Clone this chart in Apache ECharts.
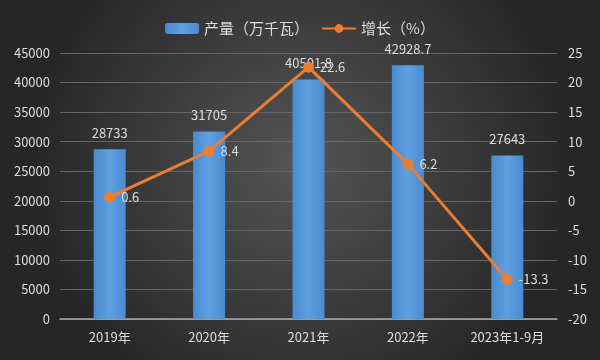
<!DOCTYPE html>
<html><head><meta charset="utf-8">
<script src="https://cdn.jsdelivr.net/npm/echarts@6/dist/echarts.min.js"></script>
<style>html,body{margin:0;padding:0;}#c{width:600px;height:360px;}</style>
</head><body><div id="c"></div>
<script>
const categories = ['2019年','2020年','2021年','2022年','2023年1-9月'];
const output = [28733, 31705, 40501.8, 42928.7, 27643];
const growth = [0.6, 8.4, 22.6, 6.2, -13.3];
const leftTicks = [0, 45000, 5000];
const rightTicks = [-20, 25, 5];

const font = '"Noto Sans CJK SC", "Noto Sans", sans-serif';
const chart = echarts.init(document.getElementById('c'));
chart.setOption({
  backgroundColor: {
    type: 'radial', x: 0.5, y: 0.45, r: 0.75,
    colorStops: [{offset: 0, color: '#555555'}, {offset: 1, color: '#262626'}]
  },
  textStyle: {fontFamily: font},
  legend: {
    top: 16, left: 'center', itemWidth: 34, itemHeight: 11, itemGap: 12,
    textStyle: {color: '#dddddd', fontSize: 15, fontFamily: font},
    data: ['产量（万千瓦）', '增长（%）']
  },
  grid: {left: 60, right: 43, top: 53, bottom: 41},
  xAxis: {
    type: 'category', data: categories,
    axisLine: {lineStyle: {color: '#aaaaaa', width: 1.5}},
    axisTick: {show: false},
    axisLabel: {color: '#dddddd', fontSize: 13, margin: 12, interval: 0, fontFamily: font}
  },
  yAxis: [{
    type: 'value', min: leftTicks[0], max: leftTicks[1], interval: leftTicks[2],
    axisLine: {show: false}, axisTick: {show: false},
    axisLabel: {color: '#dddddd', fontSize: 13, margin: 10, fontFamily: font, formatter: v => String(v)},
    splitLine: {lineStyle: {color: '#666666', width: 1}}
  }, {
    type: 'value', min: rightTicks[0], max: rightTicks[1], interval: rightTicks[2],
    axisLine: {show: false}, axisTick: {show: false},
    axisLabel: {color: '#dddddd', fontSize: 13, margin: 11, fontFamily: font, formatter: v => String(v)},
    splitLine: {show: false}
  }],
  series: [{
    name: '产量（万千瓦）', type: 'bar', data: output, barWidth: 32,
    itemStyle: {
      color: {type: 'linear', x: 0, y: 0, x2: 1, y2: 0,
        colorStops: [{offset: 0, color: '#4a8ad0'}, {offset: 0.5, color: '#5fa0e0'}, {offset: 1, color: '#4a8ad0'}]}
    },
    label: {show: true, position: 'top', color: '#dddddd', fontSize: 13, distance: 10, fontFamily: font, formatter: p => String(p.value)}
  }, {
    name: '增长（%）', type: 'line', yAxisIndex: 1, data: growth,
    symbol: 'circle', symbolSize: 11,
    lineStyle: {color: '#ED7D31', width: 3},
    itemStyle: {color: '#ED7D31'},
    label: {show: true, position: 'right', color: '#dddddd', fontSize: 13, distance: 6, fontFamily: font},
    z: 5
  }]
});
</script></body></html>
